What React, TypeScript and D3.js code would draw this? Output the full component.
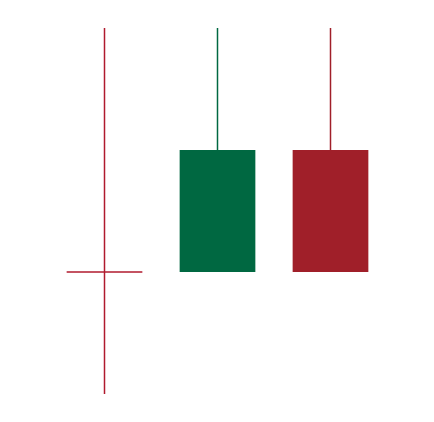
import React from "react";
import * as d3 from "d3";

const categories = ["A", "B", "C"];
const opens = [20, 20, 30];
const closes = [20, 30, 20];
const highs = [40, 40, 40];
const lows = [10, 20, 20];

const W = 434;
const H = 422;
const UP = "#006841";
const DOWN = "#a01f29";
const DOJI = "#b01a2e";

export default function App() {
  const x = d3.scaleBand<string>().domain(categories).range([48, 387]).padding(0);
  const y = d3.scaleLinear().domain([10, 40]).range([394, 28]);
  const bodyW = x.bandwidth() * 0.67;

  return (
    <svg width={W} height={H} style={{ position: "absolute", left: 0, top: 0, background: "#fff" }}>
      {categories.map((c, i) => {
        const cx = (x(c) as number) + x.bandwidth() / 2;
        const o = opens[i];
        const cl = closes[i];
        const color = o === cl ? DOJI : cl > o ? UP : DOWN;
        const top = y(Math.max(o, cl));
        const bot = y(Math.min(o, cl));
        return (
          <g key={c}>
            <line x1={cx} x2={cx} y1={y(highs[i])} y2={y(lows[i])} stroke={color} strokeWidth={1.5} />
            {o === cl ? (
              <line x1={cx - bodyW / 2} x2={cx + bodyW / 2} y1={top} y2={top} stroke={color} strokeWidth={1.5} />
            ) : (
              <rect x={cx - bodyW / 2} y={top} width={bodyW} height={bot - top} fill={color} />
            )}
          </g>
        );
      })}
    </svg>
  );
}
